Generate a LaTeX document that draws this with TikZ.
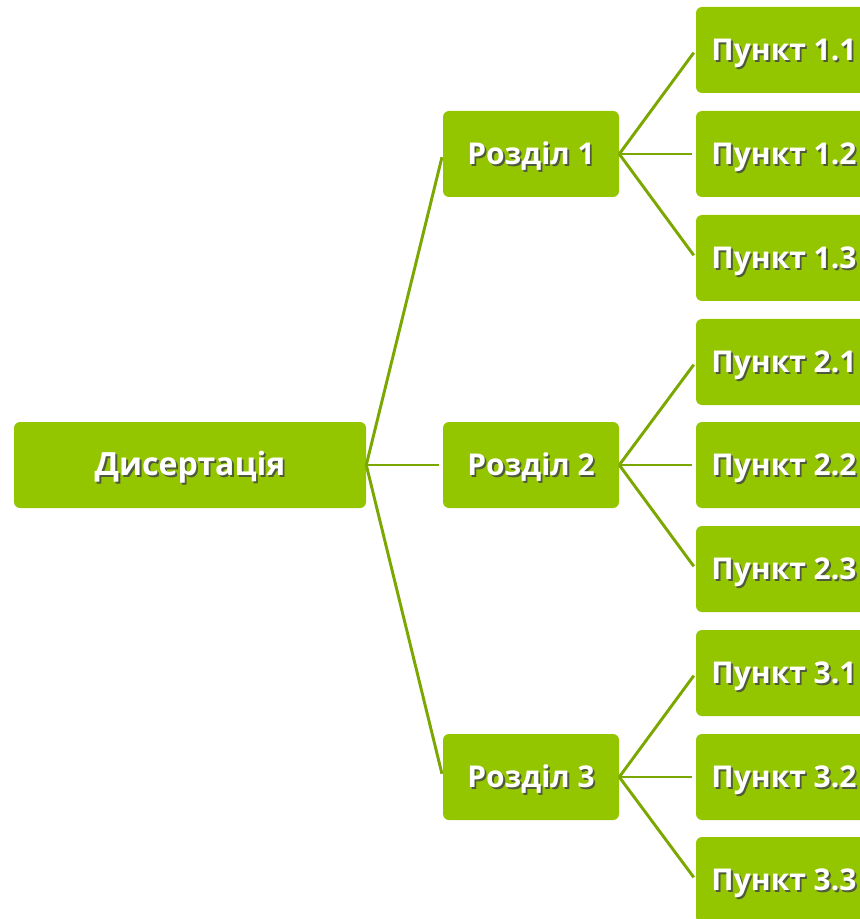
\documentclass[tikz,border=0pt]{standalone}
\usepackage{fontspec}
\setmainfont{Open Sans}
\definecolor{boxgreen}{HTML}{94C600}
\definecolor{linkgreen}{HTML}{7BA800}
\definecolor{shadowc}{HTML}{4E5A3A}
\newcommand\shtxt[1]{\rlap{\hspace*{1.4pt}\raisebox{-1.4pt}{\textcolor{shadowc}{#1}}}#1}
\begin{document}
\begin{tikzpicture}[x=0.75pt,y=-0.75pt,
  box/.style={fill=boxgreen, rounded corners=4.5pt, minimum height=64.5pt, inner sep=0pt,
    font=\fontsize{22.5}{26}\selectfont\bfseries, text=white, text height=16pt, text depth=0pt},
  bigbox/.style={box, minimum width=264pt},
  midbox/.style={box, minimum width=132pt},
  link/.style={draw=linkgreen, line width=2.2pt, shorten >=2.5pt}]
\useasboundingbox (0,0) rectangle (859,919);
\node[bigbox] (dis) at (190,465) {\fontsize{24}{28}\selectfont\shtxt{Дисертація}};
\node[midbox] (r1) at (531,154) {\shtxt{Розділ 1}};
\node[midbox] (r2) at (531,465) {\shtxt{Розділ 2}};
\node[midbox] (r3) at (531,777) {\shtxt{Розділ 3}};
\node[midbox] (p11) at (784,50) {\shtxt{Пункт 1.1}};
\node[midbox] (p12) at (784,154) {\shtxt{Пункт 1.2}};
\node[midbox] (p13) at (784,258) {\shtxt{Пункт 1.3}};
\node[midbox] (p21) at (784,362) {\shtxt{Пункт 2.1}};
\node[midbox] (p22) at (784,465) {\shtxt{Пункт 2.2}};
\node[midbox] (p23) at (784,569) {\shtxt{Пункт 2.3}};
\node[midbox] (p31) at (784,673) {\shtxt{Пункт 3.1}};
\node[midbox] (p32) at (784,777) {\shtxt{Пункт 3.2}};
\node[midbox] (p33) at (784,880) {\shtxt{Пункт 3.3}};
\foreach \r in {r1,r2,r3} \draw[link] (dis.east) -- (\r.west);
\foreach \p in {p11,p12,p13} \draw[link] (r1.east) -- (\p.west);
\foreach \p in {p21,p22,p23} \draw[link] (r2.east) -- (\p.west);
\foreach \p in {p31,p32,p33} \draw[link] (r3.east) -- (\p.west);
\end{tikzpicture}
\end{document}
